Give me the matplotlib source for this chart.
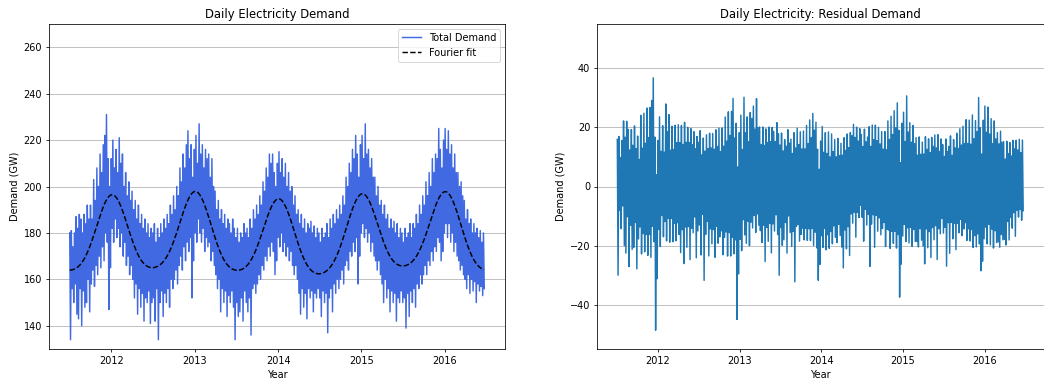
import numpy as np
import pandas as pd
import matplotlib
matplotlib.use('Agg')
import matplotlib.pyplot as plt

# weekly readings (GW) from 2011-07-01, one row per quarter (13 weeks)
# week_high: weekday level, week_low: weekend / holiday level
week_high = [
    180, 181, 174, 180, 187, 182, 188, 186, 180, 188, 184, 192, 186,   # Q3 2011
    192, 186, 203, 194, 208, 200, 214, 206, 218, 222, 231, 212, 200,   # Q4 2011
    212, 220, 208, 216, 206, 221, 210, 214, 200, 206, 196, 202, 194,   # Q1 2012
    198, 190, 194, 186, 192, 184, 188, 182, 186, 180, 184, 178, 182,   # Q2 2012
    180, 184, 176, 182, 178, 184, 180, 186, 182, 188, 184, 192, 188,   # Q3 2012
    196, 190, 200, 196, 208, 202, 214, 208, 218, 224, 212, 218, 204,   # Q4 2012
    216, 222, 210, 227, 214, 218, 208, 216, 212, 214, 204, 212, 200,   # Q1 2013
    198, 190, 194, 186, 190, 184, 188, 182, 186, 184, 180, 186, 182,   # Q2 2013
    178, 182, 176, 180, 178, 184, 180, 182, 178, 186, 182, 190, 186,   # Q3 2013
    192, 188, 196, 192, 202, 198, 208, 204, 214, 210, 214, 206, 200,   # Q4 2013
    210, 215, 206, 212, 204, 210, 200, 206, 198, 200, 192, 196, 188,   # Q1 2014
    190, 184, 188, 182, 186, 180, 184, 182, 185, 180, 183, 178, 182,   # Q2 2014
    180, 176, 182, 178, 180, 184, 178, 186, 182, 188, 184, 190, 186,   # Q3 2014
    192, 188, 196, 192, 204, 200, 210, 206, 216, 212, 222, 214, 204,   # Q4 2014
    218, 222, 212, 227, 214, 216, 208, 212, 204, 204, 196, 200, 192,   # Q1 2015
    194, 188, 192, 186, 188, 182, 186, 182, 185, 180, 184, 178, 182,   # Q2 2015
    180, 176, 182, 178, 180, 184, 178, 184, 182, 188, 184, 192, 188,   # Q3 2015
    196, 192, 202, 196, 206, 200, 212, 206, 214, 212, 225, 216, 208,   # Q4 2015
    220, 225, 216, 224, 214, 218, 208, 214, 206, 206, 200, 202, 196,   # Q1 2016
    194, 186, 190, 184, 186, 180, 184, 180, 182, 178, 181, 176, 180]   # Q2 2016
week_low = [
    134, 156, 150, 158, 145, 143, 156, 140, 155, 148, 150, 160, 146,
    158, 164, 157, 166, 162, 170, 165, 174, 168, 180, 176, 147, 165,
    182, 176, 186, 178, 182, 174, 180, 170, 176, 166, 170, 162, 166,
    160, 152, 158, 145, 156, 148, 154, 142, 152, 150, 155, 141, 150,
    152, 142, 156, 134, 150, 155, 144, 154, 150, 156, 148, 160, 156,
    160, 164, 158, 166, 170, 164, 174, 168, 176, 172, 178, 152, 168,
    180, 176, 186, 180, 176, 182, 172, 178, 174, 176, 168, 172, 166,
    162, 156, 160, 146, 156, 150, 155, 144, 153, 150, 155, 148, 134,
    150, 144, 146, 152, 142, 155, 150, 146, 152, 136, 156, 158, 154,
    158, 162, 160, 166, 164, 170, 168, 174, 170, 176, 172, 162, 168,
    178, 174, 180, 172, 176, 170, 174, 168, 172, 166, 162, 166, 160,
    154, 145, 156, 148, 154, 143, 156, 152, 155, 146, 154, 152, 156,
    152, 144, 155, 150, 154, 137, 152, 156, 146, 158, 154, 160, 156,
    160, 164, 158, 166, 168, 164, 172, 170, 176, 172, 178, 158, 170,
    180, 184, 178, 182, 176, 180, 172, 176, 170, 168, 164, 168, 162,
    158, 150, 160, 152, 156, 146, 155, 150, 154, 142, 152, 150, 155,
    150, 152, 139, 154, 144, 155, 150, 156, 148, 158, 156, 162, 158,
    162, 166, 162, 168, 166, 172, 168, 174, 172, 178, 176, 168, 172,
    180, 184, 178, 184, 176, 180, 172, 176, 170, 168, 164, 166, 162,
    160, 156, 162, 154, 160, 155, 159, 150, 158, 155, 157, 153, 156]

weeks = pd.date_range('2011-07-01', periods=len(week_high), freq='7D')
dates = np.ravel(np.column_stack([weeks + pd.Timedelta(days=1.5),
                                  weeks + pd.Timedelta(days=5)]))
dates = pd.DatetimeIndex(dates)
demand = np.ravel(np.column_stack([week_high, week_low]))

# fourier fit by least squares
freqs = [0.2, 0.4, 1.0, 2.0]


def basis(t):
    cols = [np.ones_like(t)]
    for f in freqs:
        cols += [np.sin(2 * np.pi * f * t), np.cos(2 * np.pi * f * t)]
    return np.column_stack(cols)


t = (dates - dates[0]).days.values / 365.25
coef, *_ = np.linalg.lstsq(basis(t), demand, rcond=None)
t_fine = np.linspace(t[0], t[-1], 600)
dates_fine = dates[0] + pd.to_timedelta(t_fine * 365.25, unit='D')
fit_fine = basis(t_fine) @ coef
residual = demand - basis(t) @ coef

fig = plt.figure(figsize=(1044 / 70, 383 / 70), dpi=70)
ax1 = fig.add_axes([49 / 1044, 1 - 349 / 383, 456 / 1044, 325 / 383])
ax2 = fig.add_axes([597 / 1044, 1 - 349 / 383, 446.5 / 1044, 325 / 383])

ax1.plot(dates, demand, color='royalblue', lw=1.5, label='Total Demand')
ax1.plot(dates_fine, fit_fine, 'k--', lw=1.5, label='Fourier fit')
ax1.set_ylim(130, 270)
ax1.set_title('Daily Electricity Demand')
ax1.set_xlabel('Year')
ax1.set_ylabel('Demand (GW)')
ax1.yaxis.grid(True, color='#b0b0b0')
ax1.legend(loc='upper right')

ax2.plot(dates, residual, color='C0', lw=1.5)
ax2.set_ylim(-55, 55)
ax2.set_yticks([-40, -20, 0, 20, 40])
ax2.set_title('Daily Electricity: Residual Demand')
ax2.set_xlabel('Year')
ax2.set_ylabel('Demand (GW)')
ax2.yaxis.grid(True, color='#b0b0b0')

for ax in (ax1, ax2):
    ax.set_axisbelow(True)

fig.savefig('out.png', dpi=70)
